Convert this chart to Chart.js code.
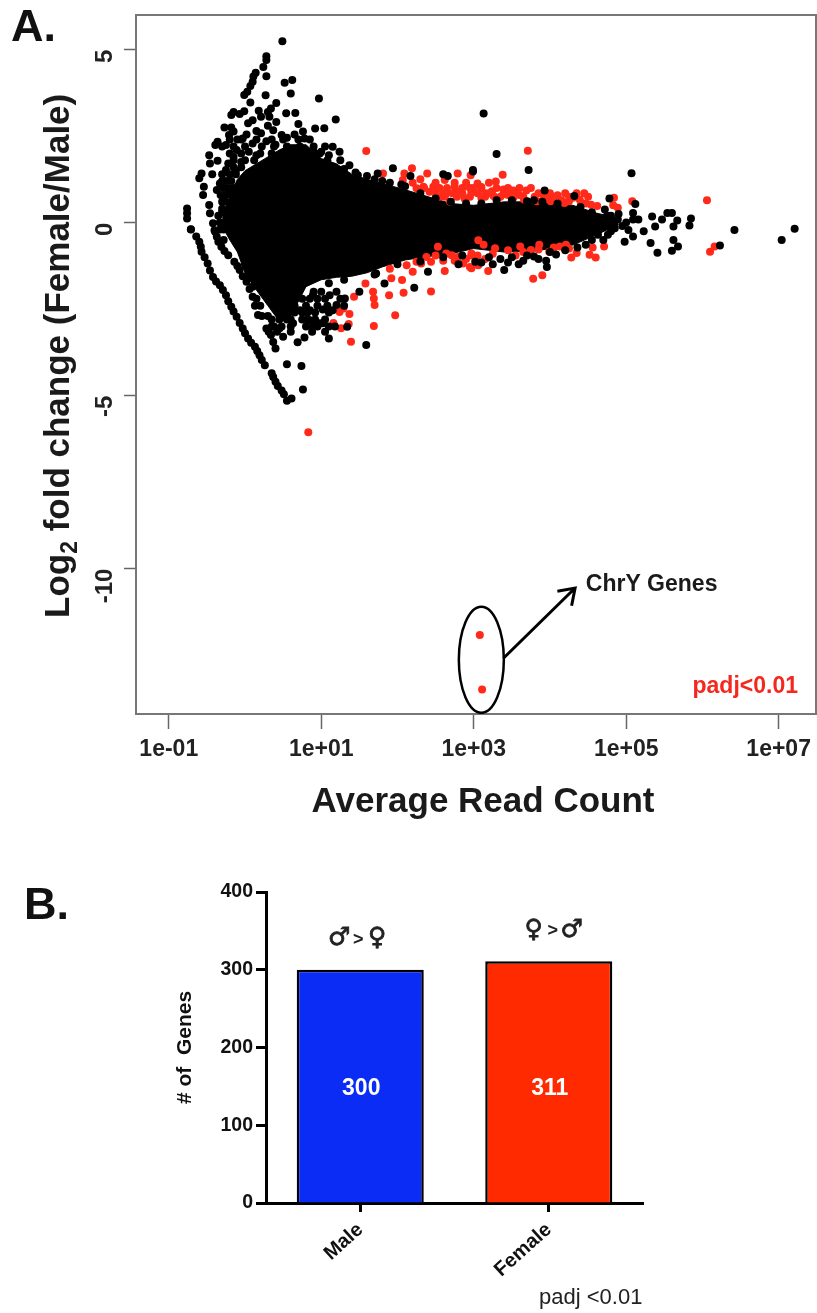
<!DOCTYPE html>
<html>
<head>
<meta charset="utf-8">
<title>Read counts and sex-biased genes</title>
<script src="https://cdn.jsdelivr.net/npm/chart.js@4"></script>
<style>
  html, body { margin: 0; padding: 0; background: #fff; }
  #page { position: relative; width: 817px; height: 1313px; overflow: hidden; }
  canvas { position: absolute; left: 0; filter: blur(0.5px); }
  #chartA { top: 0; }
  #chartB { top: 860px; }
  .letra { position: absolute; font: bold 45px "Liberation Sans", Arial, sans-serif; color: #111; line-height: 45px; }
</style>
</head>
<body>
<div id="page">
  <canvas id="chartA" width="817" height="830"></canvas>
  <canvas id="chartB" width="817" height="453"></canvas>
  <div class="letra" style="left:11px;top:3px">A.</div>
  <div class="letra" style="left:24px;top:881px">B.</div>
</div>
<script>
// Panel A - x values are log10(average read count), y values are log2 fold change
var xTickValues = [0.1, 10, 1000, 100000, 10000000];
var xTickLabels = ['1e-01', '1e+01', '1e+03', '1e+05', '1e+07'];
var yTickValues = [-10, -5, 0, 5];

// outline of the solid black cloud
var cloudLogCount = [-0.3, -0.2, -0.1, 0, 0.15, 0.3, 0.45, 0.6, 0.8, 1, 1.2, 1.4, 1.6, 1.8, 2.1, 2.4, 2.7, 3, 3.4, 3.8, 4.3, 4.6, 4.9];
var cloudUpper = [0.2, 0.75, 1.25, 1.5, 1.7, 1.9, 2.1, 2.25, 2.25, 1.85, 1.7, 1.4, 1.25, 1.13, 0.95, 0.75, 0.55, 0.5, 0.6, 0.6, 0.5, 0.28, 0.13];
var cloudLower = [-0.1, -0.5, -0.85, -1.45, -1.95, -2.4, -2.85, -2.7, -1.85, -1.65, -1.58, -1.55, -1.45, -1.28, -1.08, -0.98, -0.9, -0.75, -0.85, -0.82, -0.65, -0.36, -0.06];

var blackGenes = [
  [0.49,5.24],[0.28,4.81],[0.28,4.70],[0.24,4.50],[0.14,4.33],[0.11,4.22],[0.28,4.23],[0.10,4.07],[0.07,3.95],[0.03,3.78],
  [-0.01,3.69],[0.52,4.04],[0.62,4.12],[0.60,3.73],[0.27,3.68],[0.97,3.59],[0.07,3.47],[0.41,3.46],[0.34,3.30],[0.30,3.20],
  [0.18,3.23],[-0.01,3.22],[-0.15,3.20],[-0.18,3.11],[-0.07,3.14],[0.54,3.16],[0.66,3.17],[1.19,2.98],[0.92,2.72],[1.04,2.73],
  [0.70,2.85],[-0.27,2.75],[-0.18,2.75],[-0.15,2.63],[-0.21,2.53],[0.04,2.87],[0.10,2.96],[0.21,3.06],[0.32,3.06],[0.41,2.91],
  [-0.36,2.34],[-0.39,2.24],[-0.25,2.24],[-0.47,1.95],[-0.46,1.71],[-0.36,1.79],[-0.43,1.40],[-0.22,1.71],[-0.25,1.52],[-0.57,1.42],
  [-0.60,1.28],[-0.54,1.04],[-0.55,0.80],[-0.37,0.94],[-0.33,1.13],[-0.20,0.84],[-0.76,0.41],[-0.76,0.27],[-0.76,0.12],[-0.71,-0.19],
  [-0.47,0.51],[-0.46,0.27],[-0.42,-0.02],[-0.39,-0.27],[-0.30,0.31],[-0.11,2.10],[-0.03,2.43],[0.10,2.29],[0.21,2.58],[0.37,2.67],
  [0.48,2.53],[0.76,2.63],[0.78,2.43],[1.15,2.19],[1.00,2.05],[1.24,2.05],[1.37,1.66],[1.48,1.37],[1.74,1.42],[1.94,1.57],
  [2.17,1.35],[2.60,1.40],[2.66,1.35],[2.99,1.52],
  [-0.15,1.9],[-0.05,1.75],[0.05,2.05],[0.15,1.95],[0.28,2.35],[0.4,2.25],[0.55,2.45],[0.65,2.55],[0.9,2.05],[0.98,2.0],
  [1.08,1.8],[1.25,1.8],[0.02,2.55],[0.15,2.65],[0.3,2.8],[-0.1,2.4],[-0.3,1.2],[-0.28,1.0],[-0.12,1.5],[1.6,1.35],[1.8,1.2],[2.05,1.1],
  // upper left, loose part of the cloud
  [-0.2,2.4],[-0.05,2.4],[0.15,2.4],[0.35,2.4],[0.5,2.4],[0.7,2.4],[0.85,2.4],
  [-0.3,2.2],[-0.15,2.2],[0,2.2],[0.22,2.2],[0.38,2.2],[0.55,2.2],[0.72,2.2],[0.9,2.2],[1.05,2.2],
  [-0.2,2.0],[-0.05,2.0],[0.2,2.0],[0.35,2.0],
  [-0.15,1.8],[0,1.8],[0.12,1.8],
  [-0.15,1.6],[-0.05,1.6],
  [-0.3,1.4],[-0.2,1.4],[-0.12,1.4],
  [-0.25,1.2],[-0.18,1.2],
  [-0.22,1.0],[-0.15,1.0],
  [-0.32,0.8],[-0.25,0.8],
  [-0.3,0.6],[-0.25,0.6],
  [-0.3,0.4],[-0.35,0.2],[-0.33,0],[-0.28,-0.2],[-0.33,-0.2],[-0.28,-0.5],
  [1.1,1.95],[1.3,1.55],[1.45,1.45],[1.7,1.25],[1.9,1.15],[2.1,1.05],
  // lower diagonal stripe
  [-0.71,-0.20],[-0.60,-0.55],[-0.57,-0.84],[-0.49,-1.18],[-0.42,-1.57],[-0.33,-1.81],[-0.25,-2.10],[-0.18,-2.43],[-0.11,-2.72],[-0.03,-3.06],
  [0.04,-3.35],[0.13,-3.59],[0.19,-3.83],[0.26,-4.12],[0.37,-4.46],[0.43,-4.72],[0.51,-4.96],[0.55,-5.15],[0.61,-5.08],
  [-0.64,-0.40],[-0.58,-0.70],[-0.53,-1.00],[-0.46,-1.38],[-0.38,-1.70],[-0.29,-1.95],[-0.22,-2.27],[-0.15,-2.57],[-0.07,-2.90],[0,-3.2],
  [0.08,-3.47],[0.16,-3.71],[0.22,-3.97],[0.35,-4.35],[0.40,-4.6],[0.48,-4.85],
  // second stripe
  [-0.40,-0.22],[-0.37,-0.41],[-0.31,-0.70],[-0.22,-0.94],[-0.14,-1.13],[-0.07,-1.37],[0.02,-1.71],[0.10,-2.14],[0.17,-2.67],[0.28,-3.06],
  [0.34,-3.25],[0.40,-3.64],[-0.35,-0.55],[-0.27,-0.82],[-0.10,-1.25],[-0.03,-1.55],[0.06,-1.92],[0.13,-2.4],[0.31,-3.15],[0.37,-3.45],
  // between the second stripe and the cloud
  [0,-1.2],[0.05,-1.6],[0.1,-1.85],[0.15,-2.2],[0.2,-2.4],[0.22,-2.7],[0.3,-2.7],[0.35,-3.0],
  // loose ones under the cloud
  [0.9,-2.0],[1.0,-2.0],[1.2,-2.0],
  [0.75,-2.2],[0.85,-2.2],[0.95,-2.2],[1.05,-2.2],[1.25,-2.2],
  [0.65,-2.4],[0.8,-2.4],[0.95,-2.4],[1.08,-2.4],[1.3,-2.4],
  [0.45,-2.6],[0.55,-2.6],[0.65,-2.6],[0.75,-2.6],[0.82,-2.6],[0.92,-2.6],[1.1,-2.6],
  [0.35,-2.8],[0.45,-2.8],[0.55,-2.8],[0.6,-2.8],[0.75,-2.8],[0.82,-2.8],[0.92,-2.8],[1.05,-2.8],
  [0.38,-3.0],[0.48,-3.0],[0.6,-3.0],[0.8,-3.0],[0.95,-3.0],[1.1,-3.0],[1.18,-3.0],
  [0.42,-3.15],[0.6,-3.15],[0.88,-3.15],[1.05,-3.15],
  [0.50,-3.30],[0.69,-3.46],[0.78,-3.32],[1.10,-3.35],[1.34,-3.01],[1.59,-3.54],[2.22,-1.88],[0.55,-4.09],[0.74,-4.14],[0.76,-4.82],
  [1.02,-2.51],[1.15,-2.53],[0.85,-2.82],[0.98,-2.91],[0.63,-2.91],[0.85,-2.53],[1.83,-1.76],[1.72,-1.47],[1.50,-2.0],[1.31,-2.19],
  [2.40,-1.42],[1.02,-2.91],[0.89,-3.0],[1.2,-2.38],[0.54,-2.53],[0.72,-2.53],[0.45,-3.06],[1.11,-2.1],[0.89,-2.1],
  // right tail
  [3.13,3.15],[3.30,1.98],[3.72,1.52],[2.99,1.48],[5.07,1.43],[3.93,0.93],[3.79,0.65],[4.32,0.77],[4.78,0.70],[5.12,0.54],
  [5.09,0.28],[5.09,0.09],[5.16,0.09],[5.03,-0.21],[5.23,-0.25],[4.98,-0.55],[5.09,-0.40],[4.89,0.09],[4.85,-0.16],[4.76,-0.35],
  [4.72,0.38],[5.34,0.18],[5.47,0.09],[5.54,0.28],[5.60,0.28],[5.67,0.06],[5.62,-0.11],[5.38,-0.11],[5.85,0.12],[5.83,-0.08],
  [6.42,-0.21],[7.21,-0.18],[7.04,-0.50],[6.23,-0.66],[5.62,-0.50],[5.68,-0.69],[5.60,-0.81],[5.41,-0.87],[5.32,-0.59],[3.96,-1.28],
  [3.59,-1.20],[3.40,-1.37],[3.02,-1.13],[4.36,-0.72],[4.08,-0.92],[3.79,-0.98],[4.47,-0.64],[4.63,-0.35],
  [4.6,0.15],[4.7,-0.05],[4.8,0.2],[4.9,0.25],[4.95,-0.1],[5.0,0.0],[4.8,-0.25],[4.55,-0.5],[4.7,-0.5],
  // along the cloud edge
  [1.1,-1.75],[1.3,-1.65],[1.7,-1.5],[2.0,-1.2],[2.3,-1.12],[2.6,-1.0],[2.85,-0.95],[3.2,-1.0],[3.5,-1.0],[3.7,-0.95],[4.0,-0.85],[4.2,-0.8],
  [3.1,-1.15],[3.25,-1.2],[3.45,-1.15],[3.65,-1.1],[3.85,-1.05],[3.95,-1.1],[3.35,-1.05],[2.8,-1.2],
  [2.3,0.85],[2.5,0.7],[2.7,0.6],[2.9,0.55],[3.1,0.55],[3.3,0.65],[3.5,0.65],[3.7,0.62],[3.9,0.6],[4.1,0.55],[4.4,0.45],[4.55,0.3],[4.75,0.2]
];

var redGenes = [
  [1.59,2.07],[1.81,1.42],[2.09,1.42],[2.19,1.57],[2.39,1.42],[2.79,1.42],[2.96,1.37],
  [2.25,0.99],[2.34,1.04],[2.47,1.04],[2.62,1.23],[2.64,0.84],[2.69,0.60],[2.79,0.89],[2.88,0.70],[2.99,0.94],[3.05,1.13],[2.07,1.23],[2.42,0.89],[2.53,0.75],[2.75,1.04],
  [3.71,2.08],[3.38,1.38],[3.29,1.19],[3.10,1.03],[2.97,0.87],[3.24,0.91],[3.39,0.96],[3.52,0.93],[3.69,0.93],[3.92,0.77],
  [4.10,0.79],[4.30,0.72],[4.39,0.67],[4.54,0.52],[4.62,0.48],[4.84,0.72],[4.83,0.50],[4.89,0.43],[5.08,0.62],[6.06,0.65],
  [3.10,0.72],[3.26,0.77],[3.39,0.82],[3.52,0.72],[3.66,0.67],[3.83,0.62],[4.01,0.62],[4.19,0.57],[4.41,0.57],
  [3.0,1.0],[3.15,0.85],[3.45,0.8],[3.6,0.8],[3.8,0.75],[3.95,0.68],[4.15,0.65],[4.25,0.62],[4.47,0.55],
  // dense upper band
  [2.35,1.0],[2.55,1.0],[2.65,1.0],[2.85,1.0],[2.95,1.0],[3.1,1.0],[3.3,1.0],[3.45,1.0],[3.6,1.0],[3.75,1.0],
  [2.5,0.85],[2.6,0.85],[2.72,0.85],[2.85,0.85],[3.05,0.85],[3.2,0.85],[3.55,0.85],[3.85,0.85],[4.0,0.85],[4.2,0.85],[4.35,0.85],[4.45,0.85],
  [2.55,0.75],[2.62,0.75],[2.78,0.75],[2.95,0.75],[3.15,0.75],[3.35,0.75],[3.5,0.75],[3.65,0.75],[3.95,0.75],[4.05,0.75],[4.25,0.75],[4.5,0.75],
  [2.2,1.15],[2.5,1.15],[2.75,1.15],[2.9,1.15],[3.2,1.15],[2.3,1.25],
  // lower band
  [3.19,-1.40],[3.78,-1.62],[3.90,-1.52],[4.28,-1.01],[4.60,-1.01],[4.52,-0.93],[4.56,-0.72],[4.71,-0.69],[4.21,-0.64],[4.13,-0.69],
  [3.86,-0.64],[3.61,-0.69],[3.55,-0.95],[3.99,-0.84],[3.75,-0.79],[3.13,-0.64],[3.28,-0.74],[2.97,-0.95],[3.06,-1.23],[2.97,-1.32],[6.10,-0.84],[6.16,-0.69],
  [2.5,-0.95],[2.6,-1.1],[2.75,-1.1],[2.9,-1.05],[3.05,-0.95],[3.15,-1.05],[3.25,-0.9],[3.45,-0.8],[3.65,-0.85],[3.85,-0.78],[4.05,-0.72],[4.25,-0.75],[4.35,-0.88],
  [0.83,-6.06],[1.16,-2.90],[1.26,-3.05],[1.37,-2.64],[1.24,-2.58],[1.29,-2.48],[1.36,-2.93],[1.39,-3.44],[1.69,-2.99],[1.97,-2.68],
  [1.43,-2.14],[1.58,-1.76],[1.68,-2.0],[1.69,-2.19],[1.70,-2.38],[1.89,-2.10],[2.08,-2.03],[2.06,-1.66],[1.92,-1.61],[2.44,-1.99],
  [2.62,-1.40],[1.90,-1.33],[2.12,-1.23],[2.25,-1.13],[2.38,-0.99],[2.53,-0.70],[2.71,-0.94],[2.97,-0.89],[2.95,-1.28],[2.86,-1.18],
  [3.06,-0.51],[2.20,-1.42],[2.31,-1.18],[2.44,-1.13],[2.64,-0.89],[2.79,-0.99]
];

var chrYGenes = [[3.08,-11.92],[3.11,-13.49]];

// Panel B
var sexLabels = ['Male', 'Female'];
var geneCounts = [300, 311];
var sexSymbols = [['\u2642', '>', '\u2640'], ['\u2640', '>', '\u2642']];
var countTicks = [0, 100, 200, 300, 400];

var fonte = '"Liberation Sans", Arial, sans-serif';

function toPoints(lista) {
    return lista.map(function (p) {
        return { x: Math.pow(10, p[0]), y: p[1] };
    });
}

// the labels of the axes must not push the plot area around
function semMargens(s) {
    s.paddingLeft = 0;
    s.paddingRight = 0;
    s.paddingTop = 0;
    s.paddingBottom = 0;
}

var cloudTop = cloudLogCount.map(function (v, i) { return { x: Math.pow(10, v), y: cloudUpper[i] }; });
var cloudBottom = cloudLogCount.map(function (v, i) { return { x: Math.pow(10, v), y: cloudLower[i] }; });

// frame, circle, arrow, axis titles and the two notes of panel A
var notasA = {
    id: 'notasA',
    afterDatasetsDraw: function (chart) {
        var ctx = chart.ctx, a = chart.chartArea;
        var sx = chart.scales.x, sy = chart.scales.y;
        function px(v) { return sx.getPixelForValue(Math.pow(10, v)); }
        ctx.save();
        ctx.strokeStyle = '#777';
        ctx.lineWidth = 2;
        ctx.strokeRect(a.left, a.top, a.width, a.height);

        ctx.strokeStyle = '#000';
        ctx.lineWidth = 2.5;
        ctx.beginPath();
        ctx.ellipse(px(3.10), sy.getPixelForValue(-12.63), 22.5, 53, 0, 0, Math.PI * 2);
        ctx.stroke();

        var x0 = px(3.39), y0 = sy.getPixelForValue(-12.59);
        var x1 = px(4.33), y1 = sy.getPixelForValue(-10.56);
        var ang = Math.atan2(y1 - y0, x1 - x0);
        ctx.lineWidth = 3;
        ctx.beginPath();
        ctx.moveTo(x0, y0);
        ctx.lineTo(x1, y1);
        ctx.moveTo(x1 - 18 * Math.cos(ang - 0.6), y1 - 18 * Math.sin(ang - 0.6));
        ctx.lineTo(x1, y1);
        ctx.lineTo(x1 - 18 * Math.cos(ang + 0.6), y1 - 18 * Math.sin(ang + 0.6));
        ctx.stroke();

        ctx.fillStyle = '#1a1a1a';
        ctx.font = 'bold 23px ' + fonte;
        ctx.textAlign = 'left';
        ctx.textBaseline = 'middle';
        ctx.fillText('ChrY Genes', px(4.47), sy.getPixelForValue(-10.45));

        ctx.fillStyle = '#f5281e';
        ctx.textAlign = 'right';
        ctx.fillText('padj<0.01', a.right - 18, a.bottom - 27);

        ctx.fillStyle = '#1a1a1a';
        ctx.font = 'bold 35px ' + fonte;
        ctx.textAlign = 'center';
        ctx.fillText('Average Read Count', 483, 802);

        // y title by hand because of the subscript
        ctx.translate(57, 618);
        ctx.rotate(-Math.PI / 2);
        ctx.textAlign = 'left';
        ctx.textBaseline = 'alphabetic';
        ctx.fillText('Log', 0, 12);
        var w = ctx.measureText('Log').width;
        ctx.font = 'bold 23px ' + fonte;
        ctx.fillText('2', w, 20);
        w += ctx.measureText('2').width;
        ctx.font = 'bold 35px ' + fonte;
        ctx.fillText(' fold change (Female/Male)', w, 12);
        ctx.restore();
    }
};

new Chart(document.getElementById('chartA').getContext('2d'), {
    type: 'scatter',
    data: {
        datasets: [
            { data: toPoints(blackGenes), backgroundColor: '#000', pointRadius: 4, pointBorderWidth: 0, order: 1 },
            { data: toPoints(redGenes), backgroundColor: '#ff2a1a', pointRadius: 4, pointBorderWidth: 0, order: 2 },
            { data: toPoints(chrYGenes), backgroundColor: '#ff2a1a', pointRadius: 4, pointBorderWidth: 0, order: 2 },
            { data: cloudTop, showLine: true, pointRadius: 0, borderColor: '#000', borderWidth: 1, backgroundColor: '#000', fill: '+1', order: 3 },
            { data: cloudBottom, showLine: true, pointRadius: 0, borderColor: '#000', borderWidth: 1, backgroundColor: '#000', order: 4 }
        ]
    },
    options: {
        responsive: false,
        animation: false,
        layout: { autoPadding: false, padding: { top: 15, right: 1 } },
        plugins: { legend: { display: false }, tooltip: { enabled: false } },
        scales: {
            x: {
                type: 'logarithmic',
                min: Math.pow(10, -1.43),
                max: Math.pow(10, 7.49),
                afterBuildTicks: function (s) { s.ticks = xTickValues.map(function (v) { return { value: v }; }); },
                afterFit: function (s) { s.height = 116; semMargens(s); },
                grid: { drawOnChartArea: false, tickLength: 15, tickColor: '#666', tickWidth: 1.5 },
                border: { color: '#777', width: 2 },
                ticks: {
                    autoSkip: false, maxRotation: 0, color: '#222', padding: 7,
                    font: { family: fonte, size: 23, weight: 'bold' },
                    callback: function (v, i) { return xTickLabels[i]; }
                }
            },
            y: {
                min: -14.2,
                max: 6,
                afterBuildTicks: function (s) { s.ticks = yTickValues.map(function (v) { return { value: v }; }); },
                afterFit: function (s) { s.width = 136; semMargens(s); },
                grid: { drawOnChartArea: false, tickLength: 12, tickColor: '#666', tickWidth: 1.5 },
                border: { color: '#777', width: 2 },
                ticks: { minRotation: 90, maxRotation: 90, color: '#222', padding: 19, font: { family: fonte, size: 24, weight: 'bold' } }
            }
        }
    },
    plugins: [notasA]
});

// numbers inside the bars, symbols above them, p value note
var notasB = {
    id: 'notasB',
    afterDatasetsDraw: function (chart) {
        var ctx = chart.ctx, sy = chart.scales.y;
        var barras = chart.getDatasetMeta(0).data;
        ctx.save();
        ctx.textAlign = 'center';
        ctx.textBaseline = 'middle';
        barras.forEach(function (b, i) {
            ctx.fillStyle = '#fff';
            ctx.font = 'bold 23px ' + fonte;
            ctx.fillText(String(geneCounts[i]), b.x + 1, sy.getPixelForValue(geneCounts[0] / 2) + 2);
            ctx.fillStyle = '#222';
            ctx.strokeStyle = '#222';
            ctx.lineWidth = 0.8;
            var cx = b.x + (i == 0 ? -2 : 4);
            ctx.font = 'bold 25px "DejaVu Sans", sans-serif';
            ctx.fillText(sexSymbols[i][0], cx - 19, b.y - 31);
            ctx.strokeText(sexSymbols[i][0], cx - 19, b.y - 31);
            ctx.fillText(sexSymbols[i][2], cx + 19, b.y - 31);
            ctx.strokeText(sexSymbols[i][2], cx + 19, b.y - 31);
            ctx.font = 'bold 18px ' + fonte;
            ctx.fillText(sexSymbols[i][1], cx, b.y - 30);
        });
        ctx.fillStyle = '#222';
        ctx.font = '22px ' + fonte;
        ctx.textAlign = 'left';
        ctx.fillText('padj <0.01', 539, 438);
        ctx.restore();
    }
};

new Chart(document.getElementById('chartB').getContext('2d'), {
    type: 'bar',
    data: {
        labels: sexLabels,
        datasets: [{
            data: geneCounts,
            backgroundColor: ['#0a2cf5', '#ff2a00'],
            borderColor: '#000',
            borderWidth: 2.5,
            barPercentage: 0.674,
            categoryPercentage: 1
        }]
    },
    options: {
        responsive: false,
        animation: false,
        layout: { padding: { top: 32, right: 174 } },
        plugins: { legend: { display: false }, tooltip: { enabled: false } },
        scales: {
            x: {
                afterFit: function (s) { s.height = 110; semMargens(s); },
                grid: { offset: false, drawOnChartArea: false, tickLength: 9, tickColor: '#000', tickWidth: 3 },
                border: { color: '#000', width: 3 },
                ticks: { minRotation: 42, maxRotation: 42, color: '#111', padding: 6, font: { family: fonte, size: 20, weight: 'bold' } }
            },
            y: {
                min: 0,
                max: 400,
                afterBuildTicks: function (s) { s.ticks = countTicks.map(function (v) { return { value: v }; }); },
                afterFit: function (s) { s.width = 266; semMargens(s); },
                grid: { drawOnChartArea: false, tickLength: 10, tickColor: '#000', tickWidth: 3 },
                border: { color: '#000', width: 3 },
                ticks: { color: '#111', padding: 3, font: { family: fonte, size: 19.5, weight: 'bold' } },
                title: { display: true, text: '# of  Genes', color: '#111', font: { family: fonte, size: 21, weight: 'bold' }, padding: { top: 173, bottom: 0 } }
            }
        }
    },
    plugins: [notasB]
});
</script>
</body>
</html>
